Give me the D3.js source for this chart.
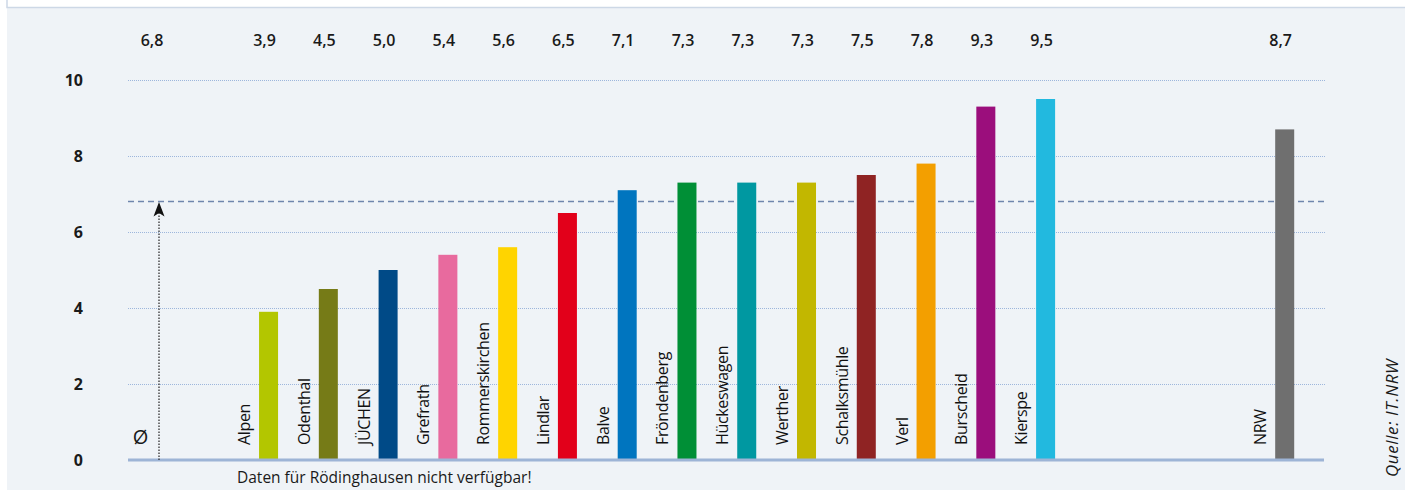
<!DOCTYPE html>
<html>
<head>
<meta charset="utf-8">
<script src="https://cdn.jsdelivr.net/npm/d3@7"></script>
<style>
  html, body { margin: 0; padding: 0; background: #fff; }
  svg { display: block; font-family: "Open Sans", "Noto Sans", sans-serif; }
</style>
</head>
<body>
<div id="chart"></div>
<script>
let width = 1405
let height = 490

// data
const towns = ["Alpen", "Odenthal", "JÜCHEN", "Grefrath", "Rommerskirchen", "Lindlar", "Balve",
  "Fröndenberg", "Hückeswagen", "Werther", "Schalksmühle", "Verl", "Burscheid", "Kierspe"]
const values = [3.9, 4.5, 5.0, 5.4, 5.6, 6.5, 7.1, 7.3, 7.3, 7.3, 7.5, 7.8, 9.3, 9.5]
const colors = ["#b3c600", "#767b17", "#004a87", "#e86a9e", "#ffd400", "#e2001a", "#0075bf",
  "#008f36", "#0098a1", "#c2b700", "#8f2323", "#f39f00", "#9b0e7c", "#22b9df"]
const nrwValue = 8.7
const avgValue = 6.8
const yTicks = [0, 2, 4, 6, 8, 10]
const noteText = "Daten für Rödinghausen nicht verfügbar!"
const sourceText = "Quelle: IT.NRW"

// slots: Ø, Rödinghausen (empty), towns, three gaps, NRW
const slots = ["Ø", "Rödinghausen"].concat(towns, ["gap1", "gap2", "gap3", "NRW"])

const de = d3.formatLocale({decimal: ",", thousands: ".", grouping: [3], currency: ["", " €"]})
const fmt = de.format(".1f")

const x = d3.scaleBand()
  .domain(slots)
  .range([139.5, 1294.2])
  .paddingInner(0.682)
  .paddingOuter(0)

const y = d3.scaleLinear()
  .domain([0, 10])
  .range([460, 80])

const gridLeft = 128, gridRight = 1325

let svg = d3.select("#chart").append("svg")
  .attr("width", width)
  .attr("height", height)

// background + title strip
svg.append("rect").attr("x", 7).attr("y", 0).attr("width", width - 7).attr("height", height).attr("fill", "#eff3f7")
svg.append("rect").attr("x", 7).attr("y", -2).attr("width", width - 6).attr("height", 9.5)
  .attr("fill", "#fff").attr("stroke", "#cdd8e6").attr("stroke-width", 1.5)

// gridlines
svg.append("g")
  .selectAll("line")
  .data(yTicks.filter(d => d > 0))
  .join("line")
  .attr("x1", gridLeft).attr("x2", gridRight)
  .attr("y1", d => y(d) + 0.5).attr("y2", d => y(d) + 0.5)
  .attr("stroke", "#9db6dc")
  .attr("stroke-dasharray", "1,1")

// y labels
svg.append("g")
  .selectAll("text")
  .data(yTicks)
  .join("text")
  .attr("x", 83)
  .attr("y", d => y(d))
  .attr("dy", "0.36em")
  .attr("text-anchor", "end")
  .style("font-size", "16px")
  .style("font-weight", "bold")
  .attr("fill", "#1a1a1a")
  .text(d => d)

// average dashed line
svg.append("line")
  .attr("x1", gridLeft).attr("x2", gridRight)
  .attr("y1", y(avgValue)).attr("y2", y(avgValue))
  .attr("stroke", "#6f86ad")
  .attr("stroke-width", 1.5)
  .attr("stroke-dasharray", "6,4")

// bars
const barData = towns.map((t, i) => ({name: t, value: values[i], color: colors[i]}))
  .concat([{name: "NRW", value: nrwValue, color: "#6f6f6f"}])

svg.append("g")
  .selectAll("rect")
  .data(barData)
  .join("rect")
  .attr("x", d => x(d.name))
  .attr("width", x.bandwidth())
  .attr("y", d => y(d.value))
  .attr("height", d => y(0) - y(d.value))
  .attr("fill", d => d.color)

// baseline
svg.append("line")
  .attr("x1", gridLeft).attr("x2", gridRight - 1)
  .attr("y1", y(0)).attr("y2", y(0))
  .attr("stroke", "#9db4d6")
  .attr("stroke-width", 3)

// average arrow
const arrowX = x("Ø") + x.bandwidth() / 2 + 10
svg.append("line")
  .attr("x1", arrowX).attr("x2", arrowX)
  .attr("y1", y(0)).attr("y2", y(avgValue) + 10)
  .attr("stroke", "#222")
  .attr("stroke-width", 1.2)
  .attr("stroke-dasharray", "1.5,1.5")
svg.append("path")
  .attr("d", `M${arrowX},${y(avgValue) + 0.5} L${arrowX + 5.5},${y(avgValue) + 15} L${arrowX},${y(avgValue) + 11.5} L${arrowX - 5.5},${y(avgValue) + 15} Z`)
  .attr("fill", "#111")

// value labels on top
const labelData = [{name: "Ø", value: avgValue, dx: 3}]
  .concat(barData.map(d => ({name: d.name, value: d.value, dx: -4})))
svg.append("g")
  .selectAll("text")
  .data(labelData)
  .join("text")
  .attr("x", d => x(d.name) + x.bandwidth() / 2 + d.dx)
  .attr("y", 46)
  .attr("text-anchor", "middle")
  .style("font-size", "16px")
  .style("font-weight", 600)
  .attr("fill", "#1a1a1a")
  .text(d => fmt(d.value))

// category labels (rotated)
svg.append("g")
  .selectAll("text")
  .data(barData)
  .join("text")
  .attr("transform", d => `translate(${x(d.name) - 9},445) rotate(-90)`)
  .style("font-size", "16px")
  .style("letter-spacing", "-0.35px")
  .attr("fill", "#111")
  .text(d => d.name)

svg.append("text")
  .attr("x", x("Ø") + x.bandwidth() / 2 - 8.5)
  .attr("y", 444)
  .attr("text-anchor", "middle")
  .style("font-size", "20px")
  .attr("fill", "#1a1a1a")
  .text("Ø")

// note
svg.append("text")
  .attr("x", 237)
  .attr("y", 483)
  .style("font-size", "15.5px")
  .style("font-weight", 500)
  .attr("fill", "#1a1a1a")
  .text(noteText)

// source
svg.append("text")
  .attr("transform", "translate(1398,477) rotate(-90)")
  .style("font-size", "17px")
  .style("font-style", "italic")
  .style("letter-spacing", "0.6px")
  .attr("fill", "#1a1a1a")
  .text(sourceText)
</script>
</body>
</html>
